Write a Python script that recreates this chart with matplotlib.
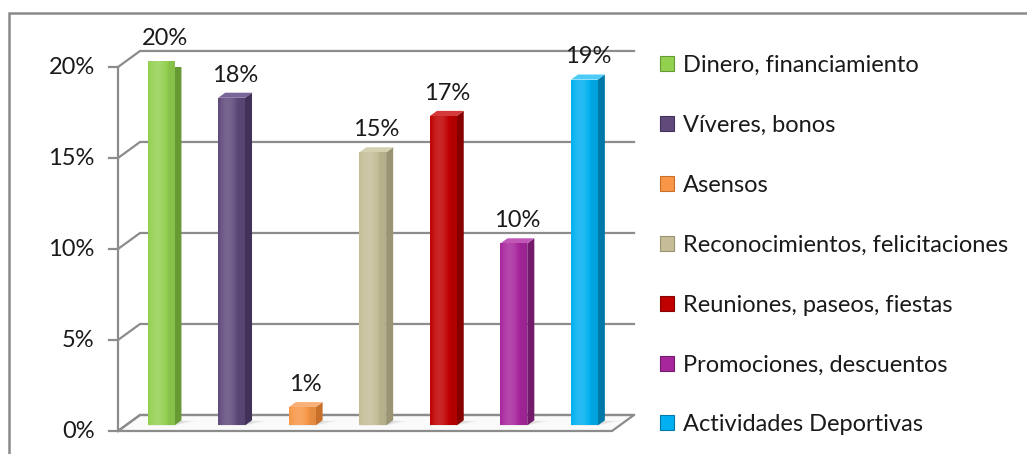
import numpy as np
import matplotlib
matplotlib.use("Agg")
import matplotlib.pyplot as plt
from matplotlib.patches import Polygon, Rectangle, Patch
from matplotlib.colors import to_rgb

plt.rcParams['font.family'] = ['Lato', 'DejaVu Sans']

categories = ['Dinero, financiamiento', 'Víveres, bonos', 'Asensos',
              'Reconocimientos, felicitaciones', 'Reuniones, paseos, fiestas',
              'Promociones, descuentos', 'Actividades Deportivas']
values = [20, 18, 1, 15, 17, 10, 19]
yticks = [0, 5, 10, 15, 20]

front_colors = ['#92D050', '#604A7B', '#F79646', '#C4BD97', '#C00000', '#A8269D', '#00B0F0']
side_colors = ['#679A34', '#42325A', '#C8702A', '#9A9472', '#860000', '#741A6D', '#0079A8']
top_colors = ['#ABDD78', '#7A6598', '#F9B078', '#D6D0B2', '#D43A3A', '#C056B6', '#4CCBF6']

GRID = '#8C8C8C'
TEXT = '#1A1A1A'
FS = 17

fig = plt.figure(figsize=(10.27, 4.54), dpi=100)
ax = fig.add_axes([118 / 1027, 23 / 454, 494 / 1027, 364 / 454])
ax.set_xlim(0, len(values))
ax.set_ylim(0, 20)
ax.axis('off')

# depth of the 3d box (in data units) and of each bar
DX, DY = 0.312, 0.88
f = 0.35
sx, sy = 0.10, 0.28
width = 0.38
n = len(values)

# floor
ax.add_patch(Polygon([(0, 0), (n, 0), (n + DX, DY), (DX, DY)], closed=True,
                     facecolor='#FAFAFA', edgecolor=GRID, lw=1.6, clip_on=False, zorder=1))

# back wall gridlines, side wall diagonals, axis ticks
for t in yticks:
    ax.plot([0, DX, n + DX], [t, t + DY, t + DY], color=GRID, lw=1.6,
            clip_on=False, zorder=1, solid_joinstyle='miter')
    ax.plot([-0.13, 0], [t, t], color=GRID, lw=1.6, clip_on=False, zorder=1)
    ax.text(-0.33, t - 0.05, f'{t}%', ha='right', va='center', fontsize=FS,
            color=TEXT, clip_on=False)
ax.plot([0, 0], [0, 20], color=GRID, lw=1.6, clip_on=False, zorder=1)

x = np.arange(n) + 0.5 + f * DX
base = f * DY

# soft shadows on the floor behind each bar
for xi in x:
    for k in range(6):
        ax.add_patch(Polygon([(xi + width / 2, base), (xi + width / 2 + 0.35 - k * 0.05, base + 0.25),
                              (xi - width / 2 + 0.1, base + 0.25), (xi - width / 2, base)],
                             closed=True, facecolor='#000000', alpha=0.025, lw=0,
                             clip_on=False, zorder=2))

bars = ax.bar(x, values, width=width, bottom=base, color=front_colors,
              linewidth=0, zorder=3)

# front face shading, side and top faces
t = np.linspace(0, 1, 64)
shade = 0.18 * np.sin(np.pi * np.clip(t * 1.3, 0, 1)) - 0.08 * t
for bar, xi, v, fc, sc, tc in zip(bars, x, values, front_colors, side_colors, top_colors):
    c = np.array(to_rgb(fc))
    row = np.array([c + (1 - c) * s if s > 0 else c * (1 + s) for s in shade])
    img = ax.imshow(row[np.newaxis, :, :], extent=[xi - width / 2, xi + width / 2, base, base + v],
                    aspect='auto', zorder=3.1, interpolation='bilinear')
    img.set_clip_path(bar)
    r = xi + width / 2
    l = xi - width / 2
    ax.add_patch(Polygon([(r, base), (r + sx, base + sy), (r + sx, base + v + sy), (r, base + v)],
                         closed=True, facecolor=sc, lw=0, zorder=3))
    ax.add_patch(Polygon([(l, base + v), (r, base + v), (r + sx, base + v + sy), (l + sx, base + v + sy)],
                         closed=True, facecolor=tc, lw=0, zorder=3))
    ax.text(xi + sx / 2, base + v + 1.25, f'{v}%', ha='center', va='center',
            fontsize=FS, color=TEXT, clip_on=False, zorder=4)

ax.set_xlim(0, n)
ax.set_ylim(0, 20)

handles = [Patch(facecolor=fc, edgecolor=sc, lw=0.8) for fc, sc in zip(front_colors, side_colors)]
fig.legend(handles, categories, loc='upper left', bbox_to_anchor=(639 / 1027, 1 - 34 / 454),
           frameon=False, fontsize=FS, handlelength=0.6, handleheight=0.6,
           handletextpad=0.38, labelspacing=1.645, labelcolor=TEXT)

# chart border
fig.patches.append(Rectangle((9 / 1027, -0.05), 1.1, 1 - 13 / 454 + 0.05,
                             transform=fig.transFigure, fill=False,
                             edgecolor='#8A8A8A', lw=1.8))

fig.savefig('out.png', dpi=100)
